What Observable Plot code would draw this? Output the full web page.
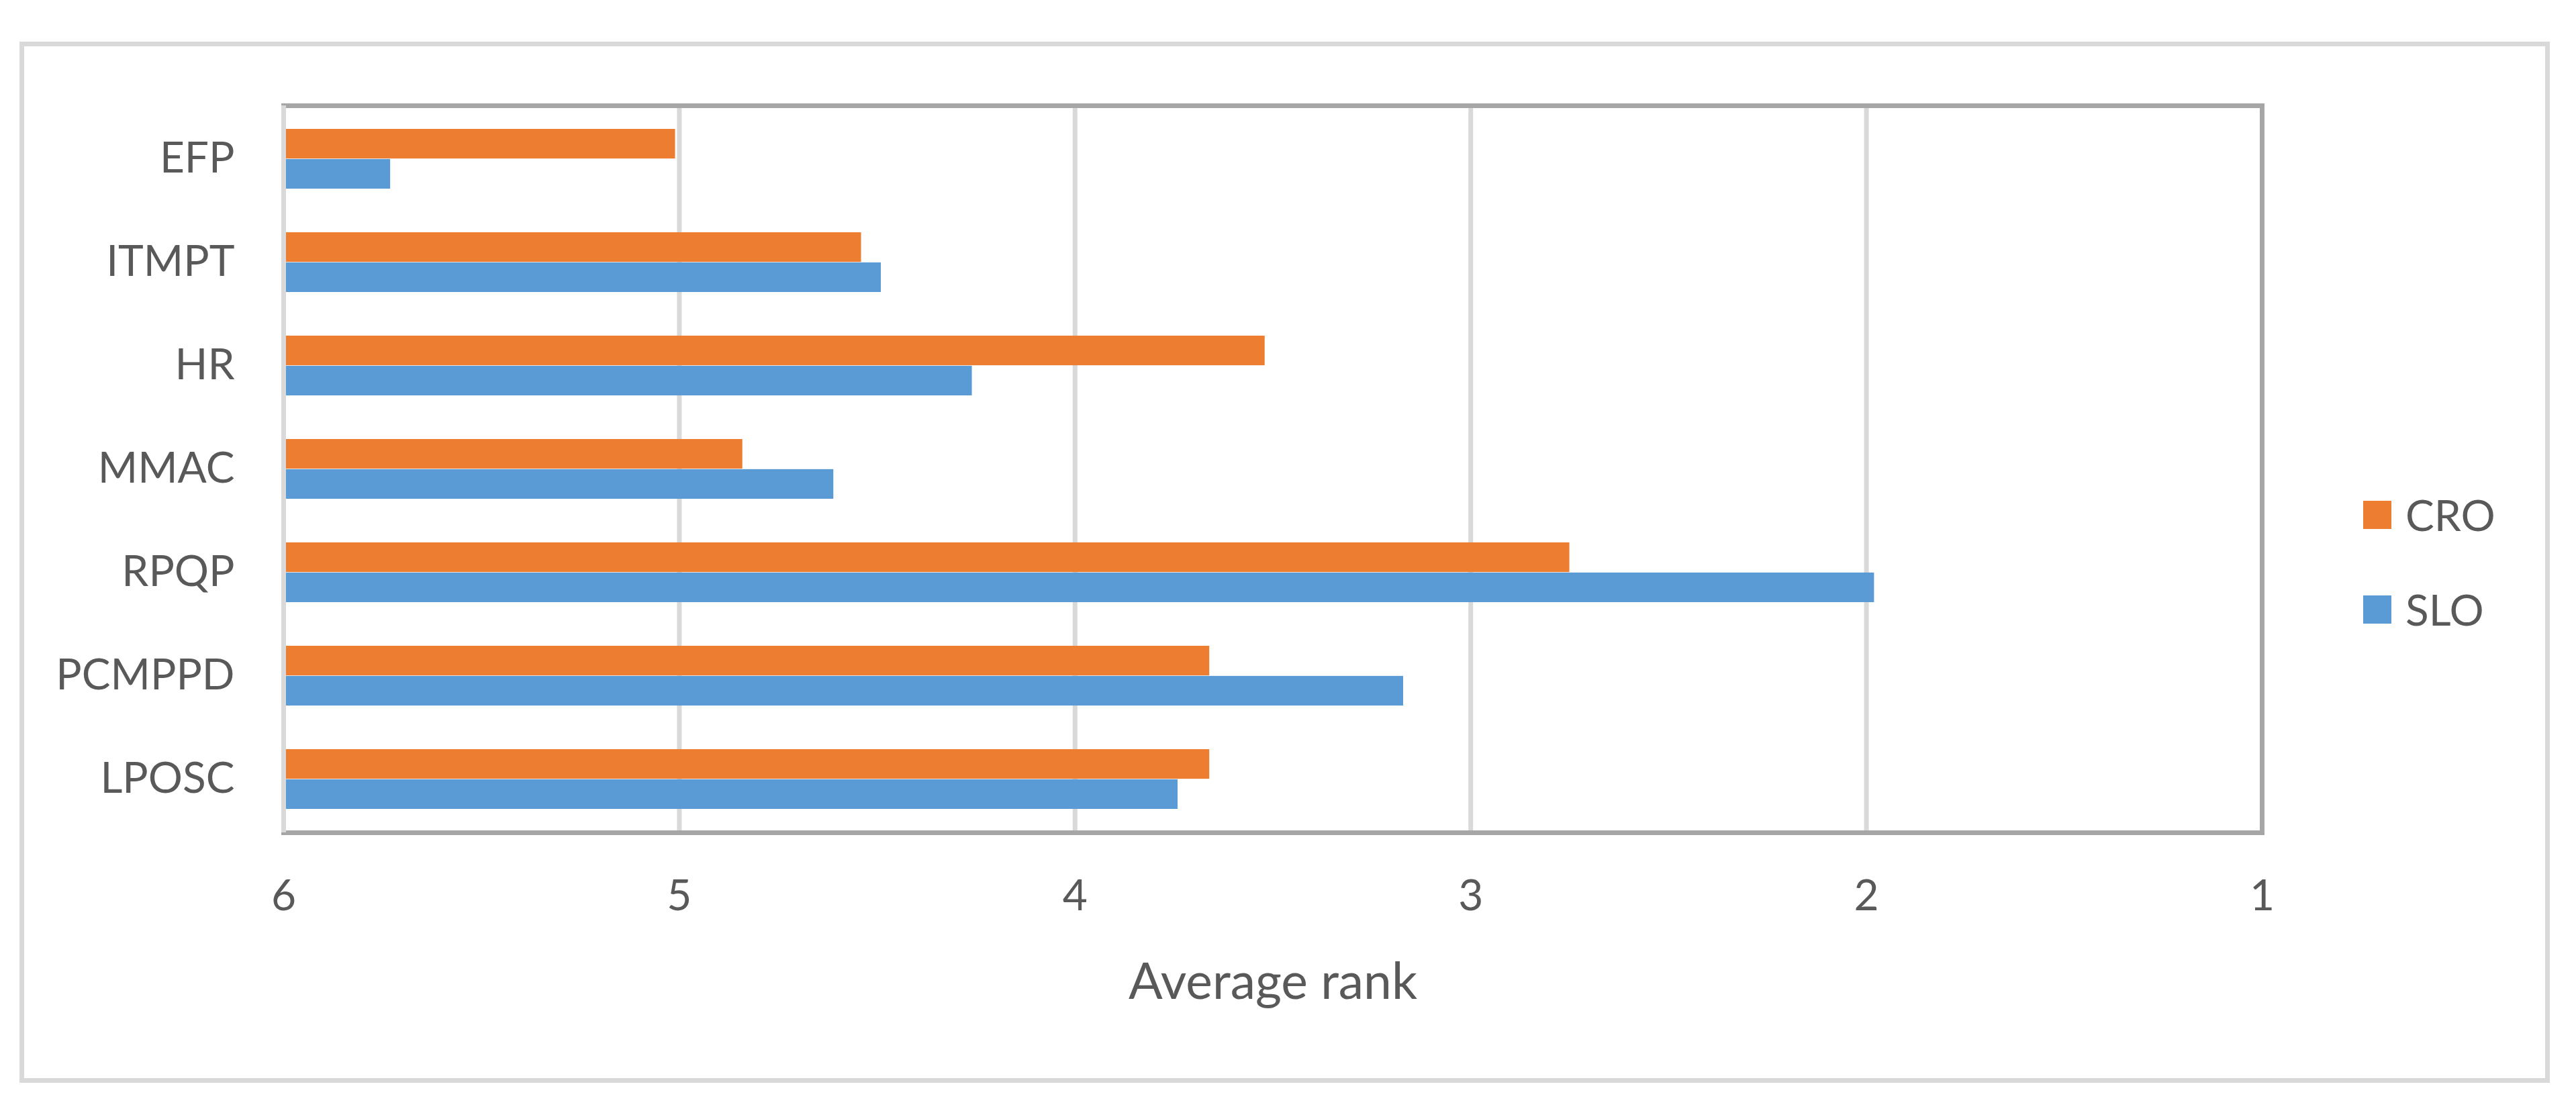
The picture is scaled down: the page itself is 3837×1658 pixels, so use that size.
<!DOCTYPE html>
<html>
<head>
<meta charset="utf-8">
<script src="https://cdn.jsdelivr.net/npm/d3@7"></script>
<script src="https://cdn.jsdelivr.net/npm/@observablehq/plot@0.6"></script>
<style>
  html, body { margin: 0; padding: 0; background: #ffffff; }
  #wrap { position: relative; width: 3837px; height: 1658px; background: #ffffff; font-family: Lato, "Open Sans", sans-serif; color: #595959; overflow: hidden; }
  #border { position: absolute; left: 29px; top: 62px; width: 3769px; height: 1551px; box-sizing: border-box; border: 7.5px solid #d9d9d9; }
  #chart { position: absolute; left: 0; top: 0; }
  #legend { position: absolute; left: 3520px; top: 724px; }
  .item { display: flex; align-items: center; height: 86px; margin-bottom: 55px; font-size: 64px; line-height: 86px; }
  .sw { width: 42px; height: 42px; margin-right: 21px; }
</style>
</head>
<body>
<div id="wrap">
  <div id="border"></div>
  <div id="chart"></div>
  <div id="legend"></div>
</div>
<script>
// ---- data ----
const categories = ["EFP", "ITMPT", "HR", "MMAC", "RPQP", "PCMPPD", "LPOSC"];
const seriesNames = ["CRO", "SLO"];
const croValues = [5.01, 4.54, 3.52, 4.84, 2.75, 3.66, 3.66];
const sloValues = [5.73, 4.49, 4.26, 4.61, 1.98, 3.17, 3.74];
const xTicks = [6, 5, 4, 3, 2, 1];
const gridTicks = [5, 4, 3, 2];
const seriesColors = ["#ED7D31", "#5B9BD5"];
const axisTitle = "Average rank";

// ---- layout ----
const W = 3837, H = 1658;
const mTop = 157, mBottom = 418, mLeft = 422, mRight = 468;
const padInner = 0.42, padOuter = 0.21;
const step = (H - mTop - mBottom) / (categories.length - padInner + 2 * padOuter);
const bandwidth = step * (1 - padInner);
const half = bandwidth / 2;

const rows = [];
categories.forEach((c, i) => {
  rows.push({category: c, series: seriesNames[0], value: croValues[i]});
  rows.push({category: c, series: seriesNames[1], value: sloValues[i]});
});
const x0 = d3.max(xTicks);

const chart = Plot.plot({
  width: W,
  height: H,
  marginTop: mTop,
  marginBottom: mBottom,
  marginLeft: mLeft,
  marginRight: mRight,
  style: {fontFamily: "Lato, 'Open Sans', sans-serif", fontSize: "64px", color: "#595959", background: "transparent"},
  x: {domain: [d3.max(xTicks), d3.min(xTicks)]},
  y: {domain: categories, paddingInner: padInner, paddingOuter: padOuter},
  color: {domain: seriesNames, range: seriesColors},
  marks: [
    Plot.ruleX(gridTicks, {stroke: "#d9d9d9", strokeWidth: 7}),
    Plot.frame({stroke: "#a6a6a6", strokeWidth: 7}),
    Plot.barX(rows.filter(d => d.series === seriesNames[0]), {
      x1: () => x0, x2: "value", y: "category", fill: "series", insetBottom: half
    }),
    Plot.barX(rows.filter(d => d.series === seriesNames[1]), {
      x1: () => x0, x2: "value", y: "category", fill: "series", insetTop: half
    }),
    Plot.ruleX([x0], {stroke: "#d9d9d9", strokeWidth: 7}),
    Plot.axisX({ticks: xTicks, tickFormat: d3.format("d"), tickSize: 0, tickPadding: 70, fontSize: 64, label: null}),
    Plot.axisX({ticks: [], tickSize: 0, fontSize: 75,
      label: axisTitle, labelAnchor: "center", labelOffset: 247, labelArrow: "none"}),
    Plot.axisY({tickSize: 0, tickPadding: 73, fontSize: 64, label: null})
  ]
});
document.getElementById("chart").appendChild(chart);

// ---- legend ----
const legend = document.getElementById("legend");
seriesNames.forEach((s, i) => {
  const item = document.createElement("div");
  item.className = "item";
  const sw = document.createElement("div");
  sw.className = "sw";
  sw.style.background = seriesColors[i];
  const t = document.createElement("span");
  t.textContent = s;
  item.appendChild(sw);
  item.appendChild(t);
  legend.appendChild(item);
});
</script>
</body>
</html>
